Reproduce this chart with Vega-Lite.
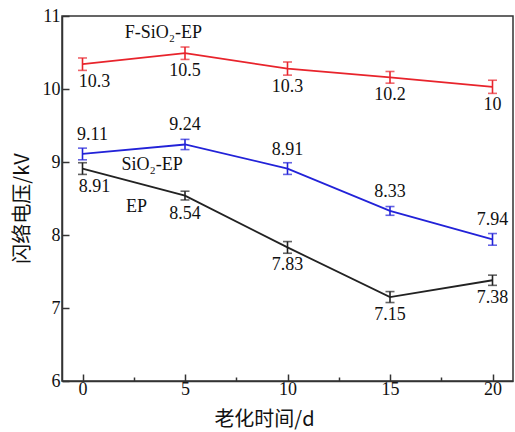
{
  "$schema": "https://vega.github.io/schema/vega-lite/v6.json",
  "width": 451,
  "height": 365,
  "autosize": "none",
  "padding": {"left": 62, "top": 16, "right": 2, "bottom": 51},
  "background": "white",
  "config": {
    "view": {"stroke": "#333333", "strokeWidth": 1.5},
    "font": "Liberation Serif",
    "axis": {
      "grid": false,
      "domainColor": "#333333",
      "domainWidth": 1.5,
      "tickColor": "#333333",
      "tickWidth": 1.5,
      "labelFont": "Liberation Serif",
      "labelFontSize": 18,
      "labelColor": "#111111",
      "titleFont": "Noto Sans CJK SC",
      "titleFontSize": 20,
      "titleFontWeight": "normal",
      "titleColor": "#111111"
    }
  },
  "datasets": {
    "pts": [
      {"series": "F-SiO2-EP", "t": 0, "v": 10.34, "err": 0.085, "label": "10.3"},
      {"series": "F-SiO2-EP", "t": 5, "v": 10.49, "err": 0.085, "label": "10.5"},
      {"series": "F-SiO2-EP", "t": 10, "v": 10.28, "err": 0.09, "label": "10.3"},
      {"series": "F-SiO2-EP", "t": 15, "v": 10.16, "err": 0.08, "label": "10.2"},
      {"series": "F-SiO2-EP", "t": 20, "v": 10.03, "err": 0.09, "label": "10"},
      {"series": "SiO2-EP", "t": 0, "v": 9.11, "err": 0.08, "label": "9.11"},
      {"series": "SiO2-EP", "t": 5, "v": 9.24, "err": 0.07, "label": "9.24"},
      {"series": "SiO2-EP", "t": 10, "v": 8.91, "err": 0.08, "label": "8.91"},
      {"series": "SiO2-EP", "t": 15, "v": 8.33, "err": 0.06, "label": "8.33"},
      {"series": "SiO2-EP", "t": 20, "v": 7.94, "err": 0.08, "label": "7.94"},
      {"series": "EP", "t": 0, "v": 8.91, "err": 0.08, "label": "8.91"},
      {"series": "EP", "t": 5, "v": 8.54, "err": 0.06, "label": "8.54"},
      {"series": "EP", "t": 10, "v": 7.83, "err": 0.08, "label": "7.83"},
      {"series": "EP", "t": 15, "v": 7.15, "err": 0.075, "label": "7.15"},
      {"series": "EP", "t": 20, "v": 7.38, "err": 0.07, "label": "7.38"}
    ],
    "notes": [
      {"t": 3.94, "v": 10.77, "text": "F-SiO₂-EP"},
      {"t": 3.4, "v": 8.96, "text": "SiO₂-EP"},
      {"t": 2.63, "v": 8.38, "text": "EP"}
    ]
  },
  "data": {"name": "pts"},
  "layer": [
    {
      "mark": {"type": "line", "strokeWidth": 1.8},
      "encoding": {
        "x": {
          "field": "t", "type": "quantitative",
          "scale": {"domain": [-1, 21], "nice": false, "zero": false},
          "axis": {
            "title": "老化时间/d",
            "values": [0, 2.5, 5, 7.5, 10, 12.5, 15, 17.5, 20],
            "labelExpr": "datum.value % 5 === 0 ? format(datum.value, 'd') : ''",
            "tickSize": {"condition": {"test": "datum.value % 5 === 0", "value": -7}, "value": -4},
            "labelPadding": 6,
            "titleX": 202,
            "titleY": 28,
            "titleBaseline": "top"
          }
        },
        "y": {
          "field": "v", "type": "quantitative",
          "scale": {"domain": [6, 11], "nice": false, "zero": false},
          "axis": {
            "title": "闪络电压/kV",
            "values": [6, 6.5, 7, 7.5, 8, 8.5, 9, 9.5, 10, 10.5, 11],
            "labelExpr": "datum.value % 1 === 0 ? format(datum.value, 'd') : ''",
            "tickSize": {"condition": {"test": "datum.value % 1 === 0", "value": -7}, "value": -4},
            "labelPadding": 9,
            "titleX": -40,
            "titleY": 192,
            "titleBaseline": "middle",
            "titleAlign": "center"
          }
        },
        "color": {
          "field": "series", "type": "nominal",
          "scale": {"domain": ["F-SiO2-EP", "SiO2-EP", "EP"], "range": ["#e8242c", "#2222d8", "#222222"]},
          "legend": null
        }
      }
    },
    {
      "mark": {"type": "errorbar", "ticks": {"size": 9, "thickness": 1.6}, "rule": {"strokeWidth": 1.6}},
      "encoding": {
        "x": {"field": "t", "type": "quantitative"},
        "y": {"field": "v", "type": "quantitative", "title": "闪络电压/kV"},
        "yError": {"field": "err"},
        "color": {"field": "series", "type": "nominal"}
      }
    },
    {
      "transform": [{"filter": "datum.series === 'SiO2-EP'"}],
      "mark": {"type": "text", "fontSize": 18, "font": "Liberation Serif", "baseline": "middle", "dy": -19, "dx": {"expr": "datum.t === 0 ? 10 : 0"}, "color": "#111111"},
      "encoding": {
        "x": {"field": "t", "type": "quantitative"},
        "y": {"field": "v", "type": "quantitative"},
        "text": {"field": "label"}
      }
    },
    {
      "transform": [{"filter": "datum.series !== 'SiO2-EP'"}],
      "mark": {"type": "text", "fontSize": 18, "font": "Liberation Serif", "baseline": "middle", "dy": 18, "dx": {"expr": "datum.t === 0 ? 12 : 0"}, "color": "#111111"},
      "encoding": {
        "x": {"field": "t", "type": "quantitative"},
        "y": {"field": "v", "type": "quantitative"},
        "text": {"field": "label"}
      }
    },
    {
      "data": {"name": "notes"},
      "mark": {"type": "text", "fontSize": 18, "font": "Liberation Serif", "baseline": "middle", "align": "center", "color": "#111111"},
      "encoding": {
        "x": {"field": "t", "type": "quantitative"},
        "y": {"field": "v", "type": "quantitative"},
        "text": {"field": "text"}
      }
    }
  ]
}
